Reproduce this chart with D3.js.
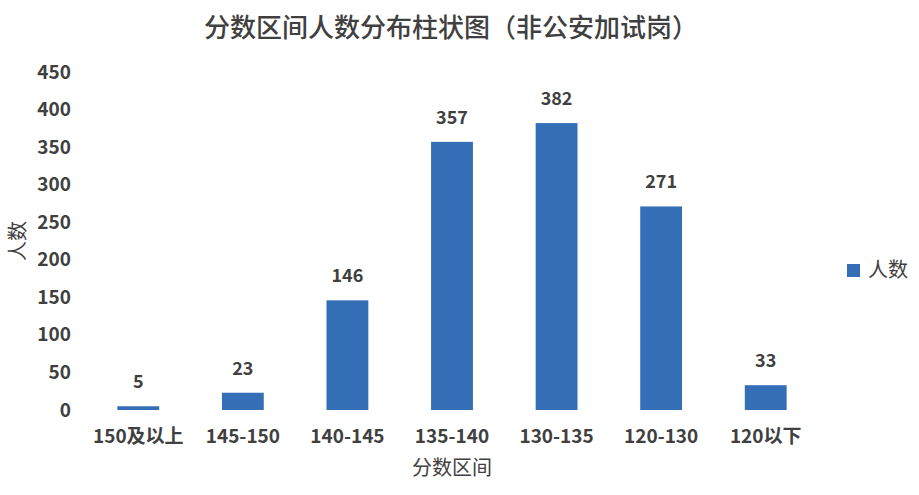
<!DOCTYPE html>
<html>
<head>
<meta charset="utf-8">
<script src="https://cdn.jsdelivr.net/npm/d3@7"></script>
<style>
  body { margin: 0; background: #fff; }
  svg { display: block; }
</style>
</head>
<body>
<div id="chart"></div>
<script>
// Score ranges and headcounts
var categories = ['150及以上', '145-150', '140-145', '135-140', '130-135', '120-130', '120以下'];
var counts = [5, 23, 146, 357, 382, 271, 33];
var yTicks = [0, 50, 100, 150, 200, 250, 300, 350, 400, 450];

var width = 919, height = 495;
var margin = { top: 72, right: 101, bottom: 85, left: 86 };
var font = "'Noto Sans CJK SC', 'Noto Sans', sans-serif";
var textColor = '#404040';
var barColor = '#336EB7';

var svg = d3.select('#chart').append('svg')
  .attr('width', width)
  .attr('height', height)
  .style('font-family', font);

var x = d3.scaleBand()
  .domain(categories)
  .range([margin.left, width - margin.right])
  .paddingInner(0.6)
  .paddingOuter(0.3);

var y = d3.scaleLinear()
  .domain([0, 450])
  .range([height - margin.bottom, margin.top]);

// Title
svg.append('text')
  .attr('x', 451)
  .attr('y', 37)
  .attr('text-anchor', 'middle')
  .attr('font-size', 26)
  .attr('font-weight', 500)
  .attr('fill', textColor)
  .text('分数区间人数分布柱状图（非公安加试岗）');

// Y axis (labels only)
var yAxis = svg.append('g')
  .attr('transform', `translate(${margin.left}, 0)`)
  .call(d3.axisLeft(y).tickValues(yTicks).tickSize(0).tickPadding(15));
yAxis.select('.domain').remove();
yAxis.selectAll('text')
  .attr('font-size', 19)
  .attr('font-weight', 'bold')
  .attr('font-family', font)
  .attr('fill', textColor);

// X axis (labels only)
var xAxis = svg.append('g')
  .attr('transform', `translate(0, ${height - margin.bottom})`)
  .call(d3.axisBottom(x).tickSize(0).tickPadding(20));
xAxis.select('.domain').remove();
xAxis.selectAll('text')
  .attr('font-size', 19)
  .attr('font-weight', 'bold')
  .attr('font-family', font)
  .attr('fill', textColor);

// Axis titles
svg.append('text')
  .attr('x', x.range()[0] + (x.range()[1] - x.range()[0]) / 2)
  .attr('y', 475)
  .attr('text-anchor', 'middle')
  .attr('font-size', 20)
  .attr('fill', textColor)
  .text('分数区间');

svg.append('text')
  .attr('transform', 'translate(25, 241) rotate(-90)')
  .attr('text-anchor', 'middle')
  .attr('font-size', 20)
  .attr('fill', textColor)
  .text('人数');

// Bars
svg.append('g')
  .attr('fill', barColor)
  .selectAll('rect')
  .data(counts)
  .join('rect')
  .attr('x', (d, i) => x(categories[i]))
  .attr('y', (d) => y(d))
  .attr('width', x.bandwidth())
  .attr('height', (d) => y(0) - y(d));

// Value labels
svg.append('g')
  .selectAll('text')
  .data(counts)
  .join('text')
  .attr('x', (d, i) => x(categories[i]) + x.bandwidth() / 2)
  .attr('y', (d) => y(d) - 18)
  .attr('text-anchor', 'middle')
  .attr('font-size', 18)
  .attr('font-weight', 'bold')
  .attr('fill', textColor)
  .text((d) => d);

// Legend
var legend = svg.append('g').attr('transform', 'translate(847, 264)');
legend.append('rect')
  .attr('width', 13)
  .attr('height', 13)
  .attr('fill', barColor);
legend.append('text')
  .attr('x', 21)
  .attr('y', 13)
  .attr('font-size', 20)
  .attr('fill', textColor)
  .text('人数');
</script>
</body>
</html>
